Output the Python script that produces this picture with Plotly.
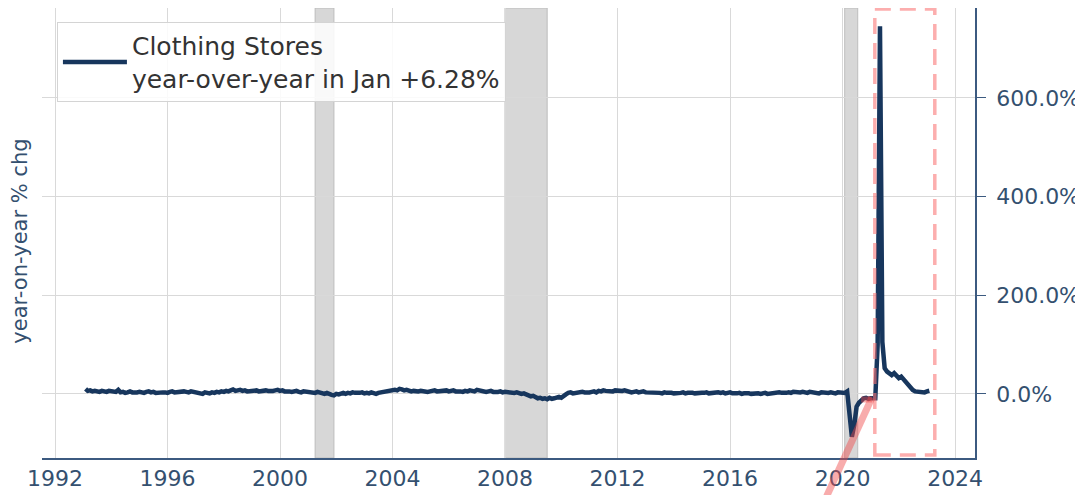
import plotly.graph_objects as go
import pandas as pd

# Monthly year-over-year % change, Clothing Stores, Jan 1993 .. Jan 2023
yoy_1993 = [10, 6, 7, 5, 6, 5, 4, 6, 5, 4, 6, 5]
yoy_1994 = [3, 4, 8, 3, 4, 2, 3, 5, 3, 2, 3, 4]
yoy_1995 = [3, 2, 4, 5, 3, 4, 2, 3, 4, 3, 3, 2]
yoy_1996 = [4, 5, 3, 4, 5, 6, 5, 4, 3, 5, 4, 3]
yoy_1997 = [2, 1, 0, 3, 2, 1, 3, 2, 4, 3, 5, 4]
yoy_1998 = [6, 5, 7, 9, 6, 7, 8, 6, 7, 5, 6, 7]
yoy_1999 = [6, 7, 5, 6, 8, 7, 6, 5, 6, 7, 8, 6]
yoy_2000 = [7, 5, 6, 5, 4, 5, 6, 4, 3, 5, 4, 3]
yoy_2001 = [4, 3, 2, 4, 3, 1, 0, 2, -1, -2, -3, 0]
yoy_2002 = [-1, 1, 2, 0, 2, 1, 3, 2, 1, 2, 3, 1]
yoy_2003 = [2, 1, 3, 2, 0, 2, 3, 4, 5, 6, 5, 6]
yoy_2004 = [8, 7, 10, 9, 7, 8, 6, 5, 6, 5, 5, 6]
yoy_2005 = [5, 6, 4, 5, 6, 7, 5, 6, 5, 6, 7, 5]
yoy_2006 = [6, 7, 5, 6, 5, 4, 6, 5, 7, 6, 5, 8]
yoy_2007 = [7, 5, 6, 4, 5, 6, 4, 3, 4, 5, 3, 4]
yoy_2008 = [3, 2, 1, 2, 3, 1, 0, 1, -1, -3, -5, -4]
yoy_2009 = [-7, -9, -8, -10, -9, -11, -8, -10, -9, -7, -6, -8]
yoy_2010 = [-3, -1, 2, 3, 1, 2, 3, 2, 4, 3, 2, 3]
yoy_2011 = [4, 5, 3, 6, 5, 7, 6, 5, 6, 5, 7, 6]
yoy_2012 = [5, 6, 7, 5, 4, 3, 4, 5, 3, 4, 5, 3]
yoy_2013 = [3, 2, 4, 2, 3, 2, 1, 3, 2, 3, 2, 1]
yoy_2014 = [1, 0, 2, 3, 1, 2, 3, 2, 1, 2, 3, 2]
yoy_2015 = [2, 3, 1, 2, 3, 2, 3, 2, 3, 1, 2, 3]
yoy_2016 = [1, 0, 1, 2, 0, 1, 2, 1, 0, 1, 2, 1]
yoy_2017 = [0, 1, 2, 0, 1, 2, 1, 2, 3, 2, 1, 2]
yoy_2018 = [3, 2, 4, 3, 2, 3, 4, 3, 2, 4, 3, 2]
yoy_2019 = [2, 1, 3, 2, 1, 2, 3, 2, 1, 3, 2, 3]
yoy_2020 = [2, 5, -50, -87, -63, -26, -18, -12, -9, -8, -10, -9]
yoy_2021 = [-10, -9, 100, 745, 105, 52, 45, 40, 38, 42, 36, 32]
yoy_2022 = [35, 30, 24, 18, 12, 8, 5, 4, 3, 4, 3, 5]
yoy_2023 = [6.28]

values = (yoy_1993 + yoy_1994 + yoy_1995 + yoy_1996 + yoy_1997 + yoy_1998 + yoy_1999
          + yoy_2000 + yoy_2001 + yoy_2002 + yoy_2003 + yoy_2004 + yoy_2005 + yoy_2006
          + yoy_2007 + yoy_2008 + yoy_2009 + yoy_2010 + yoy_2011 + yoy_2012 + yoy_2013
          + yoy_2014 + yoy_2015 + yoy_2016 + yoy_2017 + yoy_2018 + yoy_2019 + yoy_2020
          + yoy_2021 + yoy_2022 + yoy_2023)
dates = pd.date_range("1993-01-31", periods=len(values), freq="ME")

recession_starts = ["2001-03-31", "2007-12-31", "2020-01-28"]
recession_ends = ["2001-11-30", "2009-06-30", "2020-07-15"]

x_ticks = ["1992", "1996", "2000", "2004", "2008", "2012", "2016", "2020", "2024"]
y_ticks = [0, 200, 400, 600]
y_ticktext = ["0.0%", "200.0%", "400.0%", "600.0%"]

navy = "#17365d"
text_col = "#34506f"
spine_col = "#3c5a80"

fig = go.Figure()
fig.add_trace(go.Scatter(
    x=dates, y=values, mode="lines",
    line=dict(color=navy, width=4.5),
    name="Clothing Stores<br>year-over-year in Jan +6.28%",
    showlegend=True,
))

for s, e in zip(recession_starts, recession_ends):
    fig.add_vrect(x0=s, x1=e, fillcolor="#d7d7d7", opacity=1, layer="below",
                  line=dict(color="#bdbdbd", width=1))

# highlight box
fig.add_shape(type="rect", xref="x", yref="y",
              x0="2021-02-22", x1="2023-04-12", y0=-124, y1=780,
              line=dict(color="rgba(250,120,120,0.6)", width=3.5, dash="16px,9px"),
              fillcolor="rgba(0,0,0,0)", layer="above")
# pointer line
fig.add_shape(type="line", xref="paper", yref="paper",
              x0=0.841, y0=-0.085, x1=0.8895, y1=0.134,
              line=dict(color="rgba(240,70,70,0.45)", width=7), layer="above")
fig.add_shape(type="line", xref="paper", yref="paper",
              x0=0.878, y0=0.130, x1=0.890, y1=0.130,
              line=dict(color="rgba(240,70,70,0.45)", width=6), layer="above")

fig.add_annotation(text="year-on-year % chg", xref="paper", yref="paper",
                   x=-0.023, y=0.482, xanchor="center", yanchor="middle",
                   textangle=-90, showarrow=False,
                   font=dict(size=21, color=text_col, family="DejaVu Sans"))

fig.update_layout(
    width=1075, height=487,
    margin=dict(l=34, r=108, t=0, b=37, autoexpand=False),
    plot_bgcolor="white", paper_bgcolor="white",
    font=dict(family="DejaVu Sans", color=text_col),
    legend=dict(x=0.016, y=0.969, xanchor="left", yanchor="top",
                bgcolor="rgba(255,255,255,0.85)", bordercolor="#d4d4d4", borderwidth=1,
                itemwidth=64,
                font=dict(size=25, color="#333333", family="DejaVu Sans")),
    xaxis=dict(
        type="date", range=["1991-07-15", "2024-09-15"],
        tickvals=[pd.Timestamp(t + "-01-01") for t in x_ticks], ticktext=x_ticks,
        showgrid=True, gridcolor="#d9d9d9", gridwidth=1,
        showline=True, linecolor=spine_col, linewidth=1.5,
        ticks="", tickfont=dict(size=22, color=text_col),
        zeroline=False, mirror=False,
    ),
    yaxis=dict(
        side="right", range=[-130, 782],
        tickvals=y_ticks, ticktext=y_ticktext,
        showgrid=True, gridcolor="#d9d9d9", gridwidth=1,
        showline=True, linecolor=spine_col, linewidth=1.5,
        ticks="outside", ticklen=9, tickcolor=spine_col,
        ticklabelstandoff=6,
        tickfont=dict(size=22, color=text_col),
        zeroline=False,
    ),
)

fig.write_html("out.html")
